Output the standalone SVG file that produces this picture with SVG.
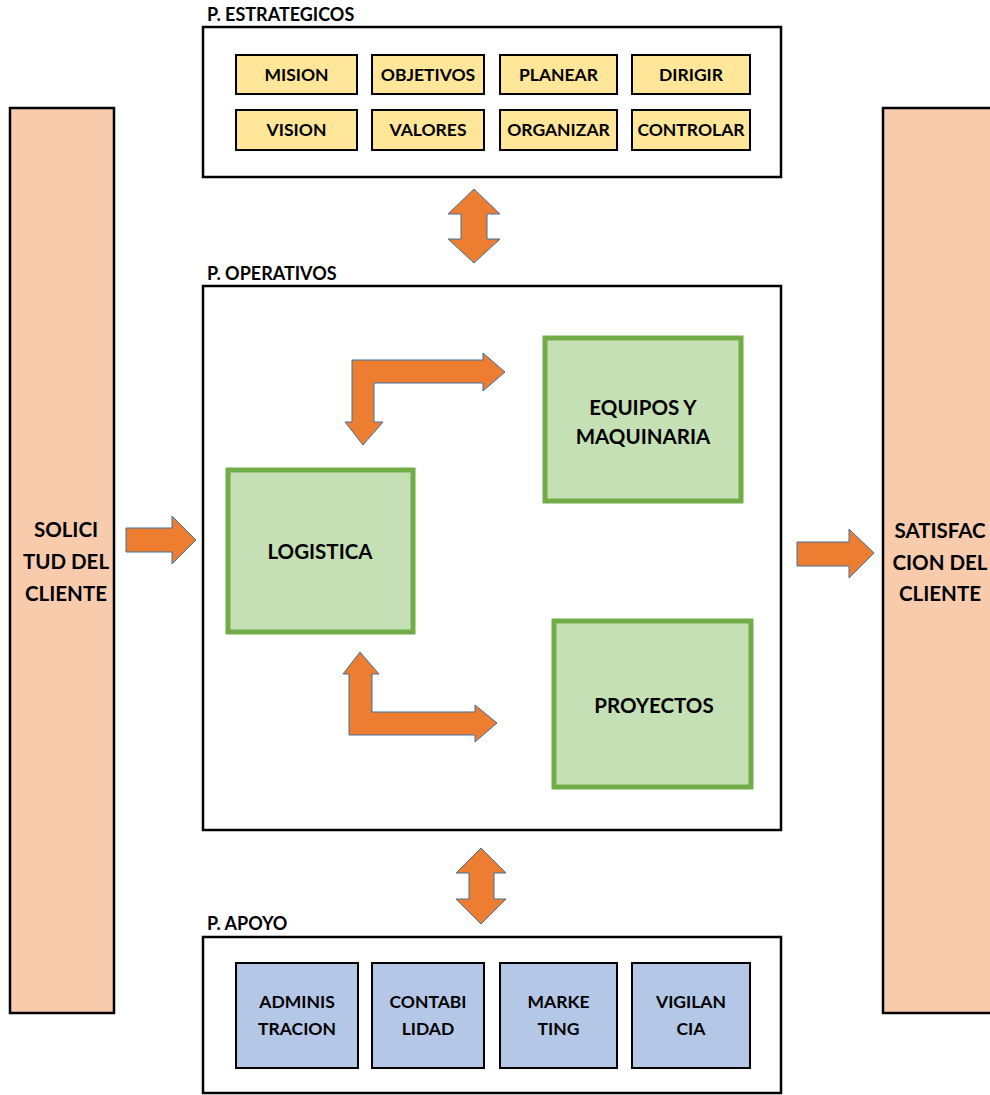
<svg xmlns="http://www.w3.org/2000/svg" width="990" height="1095" viewBox="0 0 990 1095">
<style>
text{font-family:Lato,"Liberation Sans",sans-serif;font-weight:bold;fill:#000;text-anchor:middle;}
.lbl{text-anchor:start;font-size:18px;}
.frame{fill:#fff;stroke:#000;stroke-width:2.5;}
.yel{fill:#FFE699;stroke:#000;stroke-width:2;}
.blu{fill:#B4C7E7;stroke:#000;stroke-width:2;}
.grn{fill:#C5E0B4;stroke:#70AD47;stroke-width:5;}
.side{fill:#F8CBAD;stroke:#000;stroke-width:2.5;}
.arr{fill:#ED7D31;stroke:#41719C;stroke-width:1;}
.t17{font-size:17.5px;}
.t20{font-size:20.5px;}
</style>
<rect width="990" height="1095" fill="#fff"/>
<g id="solicitud">
<rect class="side" x="10" y="108" width="104" height="905"/>
<text class="t20" x="66" y="537">SOLICI</text>
<text class="t20" x="66" y="569">TUD DEL</text>
<text class="t20" x="66" y="601">CLIENTE</text>
</g>
<g id="satisfaccion">
<rect class="side" x="883" y="108" width="120" height="905"/>
<text class="t20" x="940" y="538">SATISFAC</text>
<text class="t20" x="940" y="570">CION DEL</text>
<text class="t20" x="940" y="601">CLIENTE</text>
</g>
<g id="estrategicos">
<text class="lbl" x="207" y="21">P. ESTRATEGICOS</text>
<rect class="frame" x="203" y="27" width="578" height="150"/>
</g>
<g id="mision"><rect class="yel" x="236" y="55" width="121" height="39"/><text class="t17" x="296.5" y="81">MISION</text></g>
<g id="objetivos"><rect class="yel" x="372" y="55" width="112" height="39"/><text class="t17" x="428" y="81">OBJETIVOS</text></g>
<g id="planear"><rect class="yel" x="500" y="55" width="117" height="39"/><text class="t17" x="558.5" y="81">PLANEAR</text></g>
<g id="dirigir"><rect class="yel" x="632" y="55" width="118" height="39"/><text class="t17" x="691" y="81">DIRIGIR</text></g>
<g id="vision"><rect class="yel" x="236" y="110" width="121" height="40"/><text class="t17" x="296.5" y="136">VISION</text></g>
<g id="valores"><rect class="yel" x="372" y="110" width="112" height="40"/><text class="t17" x="428" y="136">VALORES</text></g>
<g id="organizar"><rect class="yel" x="500" y="110" width="117" height="40"/><text class="t17" x="558.5" y="136">ORGANIZAR</text></g>
<g id="controlar"><rect class="yel" x="632" y="110" width="118" height="40"/><text class="t17" x="691" y="136">CONTROLAR</text></g>
<g id="operativos">
<text class="lbl" x="207" y="280">P. OPERATIVOS</text>
<rect class="frame" x="203" y="286" width="578" height="544"/>
</g>
<g id="logistica"><rect class="grn" x="228" y="470" width="185" height="162"/><text class="t20" x="320" y="559">LOGISTICA</text></g>
<g id="equipos"><rect class="grn" x="545" y="338" width="196" height="163"/><text class="t20" x="643" y="415">EQUIPOS Y</text><text class="t20" x="643" y="444">MAQUINARIA</text></g>
<g id="proyectos"><rect class="grn" x="554" y="621" width="197" height="166"/><text class="t20" x="654" y="713">PROYECTOS</text></g>
<g id="apoyo">
<text class="lbl" x="207" y="930">P. APOYO</text>
<rect class="frame" x="203" y="937" width="578" height="156"/>
</g>
<g id="administracion"><rect class="blu" x="236" y="963" width="122" height="105"/><text class="t17" x="297" y="1008">ADMINIS</text><text class="t17" x="297" y="1035">TRACION</text></g>
<g id="contabilidad"><rect class="blu" x="372" y="963" width="112" height="105"/><text class="t17" x="428" y="1008">CONTABI</text><text class="t17" x="428" y="1035">LIDAD</text></g>
<g id="marketing"><rect class="blu" x="500" y="963" width="117" height="105"/><text class="t17" x="558.5" y="1008">MARKE</text><text class="t17" x="558.5" y="1035">TING</text></g>
<g id="vigilancia"><rect class="blu" x="632" y="963" width="118" height="105"/><text class="t17" x="691" y="1008">VIGILAN</text><text class="t17" x="691" y="1035">CIA</text></g>
<g id="connectors">
<path class="arr" d="M474,189 L500,214 L487,214 L487,239 L500,239 L474,263 L448,239 L461,239 L461,214 L448,214 Z"/>
<path class="arr" d="M481,848 L506,873 L494,873 L494,899 L506,899 L481,924 L456,899 L469,899 L469,873 L456,873 Z"/>
<path class="arr" d="M126,528 L172,528 L172,516 L196,540 L172,564 L172,552 L126,552 Z"/>
<path class="arr" d="M797,542 L849,542 L849,529 L874,553 L849,578 L849,566 L797,566 Z"/>
<path class="arr" d="M352,360 L483,360 L483,353 L505,372 L483,391 L483,383 L374,383 L374,422 L383,422 L363,445 L345,422 L352,422 Z"/>
<path class="arr" d="M360,652 L379,674 L372,674 L372,712 L475,712 L475,705 L497,723 L475,742 L475,735 L349,735 L349,674 L343,674 Z"/>
</g>
</svg>
